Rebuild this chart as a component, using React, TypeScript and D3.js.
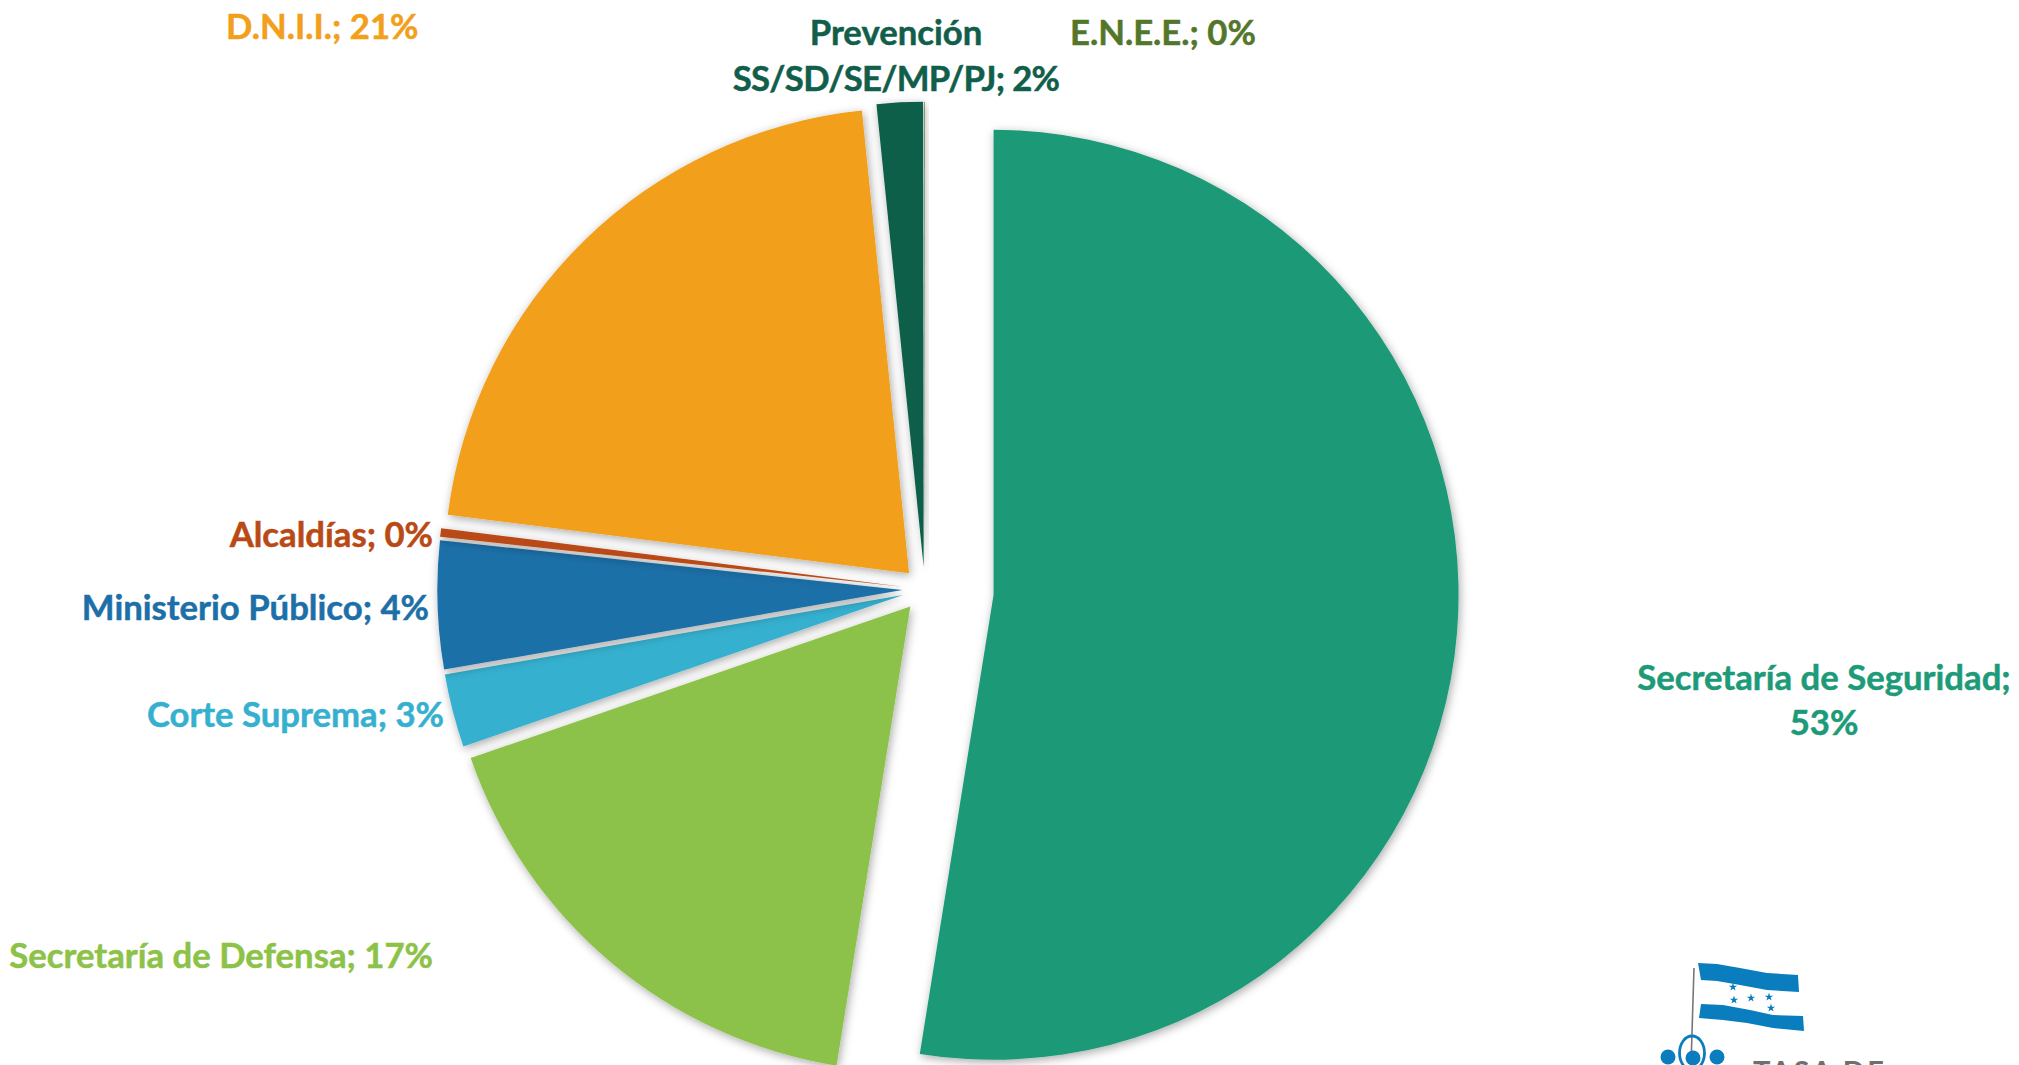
import React from "react";
import * as d3 from "d3";

const WIDTH = 2019;
const HEIGHT = 1065;

// values
const categories = [
  "Secretaría de Seguridad",
  "Secretaría de Defensa",
  "Corte Suprema",
  "Ministerio Público",
  "Alcaldías",
  "D.N.I.I.",
  "Prevención SS/SD/SE/MP/PJ",
  "E.N.E.E.",
];
const values = [52.6, 17.2, 2.55, 4.45, 0.3, 21.4, 1.6, 0.02];
const colors = ["#1D9A78", "#8CC248", "#36B0CF", "#1D6FA8", "#B94A15", "#F29F1B", "#115E4A", "#53772A"];
const explode = [69, 22.5, 22.5, 22.5, 22.5, 22.5, 22.5, 22.5];

// label lines, anchor and spot for each slice
const labelLayout = [
  { x: 1824, y: [690, 735], anchor: "middle", split: "; " },
  { x: 433, y: [968], anchor: "end" },
  { x: 444, y: [727], anchor: "end" },
  { x: 429, y: [620], anchor: "end" },
  { x: 433, y: [547], anchor: "end" },
  { x: 226, y: [39], anchor: "start" },
  { x: 896, y: [45, 91], anchor: "middle", split: "Prevención " },
  { x: 1070, y: [45], anchor: "start" },
];

const CX = 924.8;
const CY = 589.3;
const RADIUS = 465;

const starSpots = [
  [1733, 987],
  [1734, 1000],
  [1751, 998],
  [1769, 997],
  [1771, 1008],
];

const total = d3.sum(values);
const pct = d3.format(".0%");

const FONT = "Lato, Carlito, Calibri, sans-serif";

function labelLines(i: number) {
  const text = `${categories[i]}; ${pct(values[i] / total)}`;
  const split = labelLayout[i].split;
  if (split === "; ") return [`${categories[i]};`, pct(values[i] / total)];
  if (split) return ["Prevención", text.replace(split, "")];
  return [text];
}

const Logo = () => {
  const star = d3.symbol().type(d3.symbolStar).size(22);
  return (
    <g>
      <path d="M1698 963 L1717 964 L1740 968 L1767 973 L1798 975 L1799 992 L1767 990 L1740 985 L1717 981 L1701 980 Z" fill="#0A7DBE" />
      <path d="M1701 1004 L1723 1005 L1750 1010 L1773 1015 L1803 1016 L1804 1031 L1773 1028 L1747 1023 L1723 1020 L1699 1018 Z" fill="#0A7DBE" />
      {starSpots.map(([x, y], i) => (
        <path key={i} d={star() as string} transform={`translate(${x},${y})`} fill="#0A7DBE" />
      ))}
      <line x1={1694} y1={968} x2={1691} y2={1065} stroke="#777" strokeWidth={1.6} />
      <circle cx={1668} cy={1057} r={7.5} fill="#0A7DBE" />
      <circle cx={1693} cy={1058} r={7.5} fill="#0A7DBE" />
      <circle cx={1717} cy={1057} r={7.5} fill="#0A7DBE" />
      <ellipse cx={1692} cy={1053} rx={12.5} ry={17} fill="none" stroke="#0A7DBE" strokeWidth={2.8} />
      <text x={1753} y={1082} fontFamily={FONT} fontWeight={700} fontSize={29} letterSpacing={2.5} fill="#6F6F6F">
        TASA DE
      </text>
    </g>
  );
};

export default function App() {
  const slices = d3.pie<number>().sort(null).value((d) => d)(values);
  const arc = d3.arc<d3.PieArcDatum<number>>().innerRadius(0).outerRadius(RADIUS);

  return (
    <svg
      width={WIDTH}
      height={HEIGHT}
      viewBox={`0 0 ${WIDTH} ${HEIGHT}`}
      style={{ position: "absolute", left: 0, top: 0, display: "block", background: "#fff" }}
    >
      <defs>
        <filter id="sliceShadow" x="-10%" y="-10%" width="120%" height="120%">
          <feDropShadow dx={1.5} dy={2.5} stdDeviation={5} floodColor="#000" floodOpacity={0.34} />
        </filter>
      </defs>
      {slices.map((s, i) => {
        const mid = (s.startAngle + s.endAngle) / 2;
        const dx = CX + explode[i] * Math.sin(mid);
        const dy = CY - explode[i] * Math.cos(mid);
        return (
          <path
            key={categories[i]}
            d={arc(s) as string}
            transform={`translate(${dx},${dy})`}
            fill={colors[i]}
            filter="url(#sliceShadow)"
          />
        );
      })}
      {labelLayout.map((l, i) => (
        <text
          key={categories[i]}
          fontFamily={FONT}
          fontWeight={700}
          fontSize={34.7}
          textAnchor={l.anchor}
          fill={colors[i]}
          stroke={colors[i]}
          strokeWidth={0.5}
        >
          {labelLines(i).map((line, j) => (
            <tspan key={j} x={l.x} y={l.y[j]} letterSpacing={line.startsWith("SS/") ? -0.7 : undefined}>
              {line}
            </tspan>
          ))}
        </text>
      ))}
      <Logo />
    </svg>
  );
}
